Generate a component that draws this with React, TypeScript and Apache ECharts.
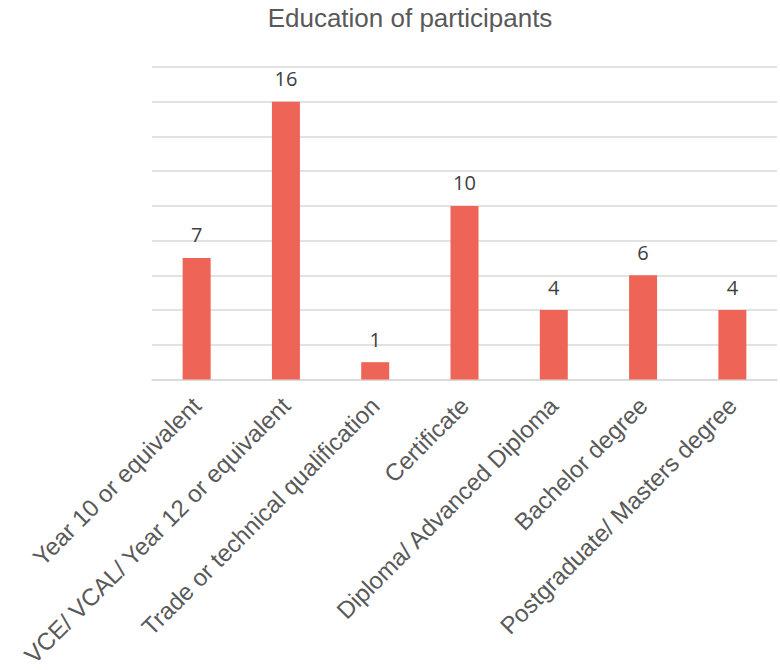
import React, { useEffect, useRef } from "react";
import * as echarts from "echarts";

const categories = [
  "Year 10 or equivalent",
  "VCE/ VCAL/ Year 12 or equivalent",
  "Trade or technical qualification",
  "Certificate",
  "Diploma/ Advanced Diploma",
  "Bachelor degree",
  "Postgraduate/ Masters degree",
];
const values = [7, 16, 1, 10, 4, 6, 4];
const titleText = "Education of participants";

export default function App() {
  const ref = useRef<HTMLDivElement>(null);
  useEffect(() => {
    document.body.style.margin = "0";
    if (!ref.current) return;
    const chart = echarts.init(ref.current, null, { renderer: "svg" });
    chart.setOption({
      animation: false,
      backgroundColor: "#ffffff",
      title: {
        text: titleText,
        left: 410,
        textAlign: "center",
        top: 5,
        padding: 0,
        textStyle: {
          fontFamily: "'Liberation Sans'",
          fontSize: 26,
          fontWeight: "normal",
          color: "#595959",
        },
      },
      grid: { left: 152, right: 3, top: 67, bottom: 288, containLabel: false },
      xAxis: {
        type: "category",
        data: categories,
        axisLine: { lineStyle: { color: "#d9d9d9", width: 1.5 } },
        axisTick: { show: false },
        axisLabel: {
          rotate: 45,
          interval: 0,
          margin: 22,
          fontFamily: "'Liberation Sans'",
          fontSize: 24,
          color: "#595959",
        },
      },
      yAxis: {
        type: "value",
        min: 0,
        max: 18,
        interval: 2,
        axisLabel: { show: false },
        axisLine: { show: false },
        axisTick: { show: false },
        splitLine: { lineStyle: { color: "#d9d9d9", width: 1.5 } },
      },
      series: [
        {
          type: "bar",
          data: values,
          barWidth: 28,
          itemStyle: { color: "#ee6558" },
          label: {
            show: true,
            position: "top",
            distance: 13,
            fontFamily: "'Open Sans'",
            fontSize: 20,
            color: "#404040",
          },
        },
      ],
    });
    return () => chart.dispose();
  }, []);
  return <div ref={ref} style={{ width: 780, height: 670 }} />;
}
